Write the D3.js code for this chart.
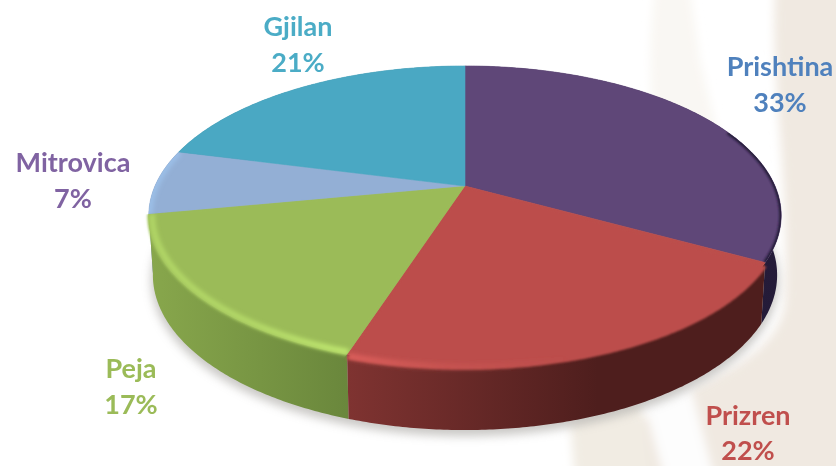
<!DOCTYPE html>
<html><head><meta charset="utf-8">
<script src="https://cdn.jsdelivr.net/npm/d3@7/dist/d3.min.js"></script>
<style>html,body{margin:0;padding:0;background:#fff;overflow:hidden}svg{display:block}</style>
</head><body><script>
const categories = ["Prishtina","Prizren","Peja","Mitrovica","Gjilan"];
const shares = [33,22,17,7,21];

const topColors = ["#5f4778","#bc4e4b","#9bbb59","#93afd5","#4aa8c3"];
const labelColors = ["#4f81bd","#c0504d","#9bbb59","#8064a2","#4bacc6"];
const sideColors = [["#2a2142","#241b38"],["#7f3331","#4e1e1d"],["#88a74c","#6a873c"],["#6f86a6","#6f86a6"],["#37808f","#37808f"]];
const rimColors = ["#3a2c4e","#e2625e","#c0e870","#a0c8f2","#4aa8c3"];
const labelAnchors = [[780,76],[748,425],[131,378],[73,172],[298,36]];
const labelGaps = [36,35,36,36,36];

const W=836,H=466;
const svg=d3.select("body").append("svg").attr("width",W).attr("height",H);
const defs=svg.append("defs");
[["b0",0.35],["b1",1.2],["b2",2.2],["b3",5]].forEach(([id,s])=>{
  defs.append("filter").attr("id",id).attr("x","-20%").attr("y","-20%").attr("width","140%").attr("height","140%")
   .append("feGaussianBlur").attr("stdDeviation",s);
});

// background swoosh
const bg=svg.append("g").attr("filter","url(#b3)");
bg.append("path").attr("d","M775,-10C770,80 790,180 785,300C780,360 700,380 640,420L575,480L900,480L900,-10Z").attr("fill","#f0e9e1");
bg.append("path").attr("d","M655,-10C648,50 650,90 655,130L730,185L700,60L690,-10Z").attr("fill","#f9f7f3");
bg.append("path").attr("d","M642,395L690,385L715,480L665,480Z").attr("fill","#fdfdfd");
bg.append("path").attr("d","M570,420L640,400L650,480L575,480Z").attr("fill","#f1ece3");

// perspective disc projection
const K=0.197;
const planes={
  top:{cx:465,cy:186,a:310,b:143.7},
  lip:{cx:465,cy:190,a:310,b:143.7},
  bot:{cx:465,cy:244.5,a:306,b:149}
};
function project(theta,plane,r=1){
  const s=r*Math.sin(theta),u=-r*Math.cos(theta),w=1-K*u;
  return [plane.cx+plane.a*s/w, plane.cy+plane.b*u/w];
}
const line=d3.line();
function samples(a0,a1){
  const n=Math.max(2,Math.ceil((a1-a0)/0.01));
  return d3.range(n+1).map(i=>a0+(a1-a0)*i/n);
}
const arcs=d3.pie().sort(null).startAngle(0).endAngle(2*Math.PI)(shares);

// ground shadow
const all=samples(0,2*Math.PI);
svg.append("path").attr("d",line(all.map(t=>{const p=project(t,planes.bot,1.005);return [p[0],p[1]+5];}))+"Z")
  .attr("fill","#b8b6b2").attr("opacity",.75).attr("filter","url(#b3)");

// side walls (back to front)
[3,4,0,2,1].forEach(i=>{
  const d=arcs[i],ts=samples(d.startAngle,d.endAngle);
  const ptsTop=ts.map(t=>project(t,planes.top)),ptsBot=ts.map(t=>project(t,planes.bot));
  const xs=ptsTop.map(p=>p[0]);
  const g=defs.append("linearGradient").attr("id","side"+i).attr("gradientUnits","userSpaceOnUse")
    .attr("x1",d3.min(xs)).attr("x2",d3.max(xs)).attr("y1",0).attr("y2",0);
  g.append("stop").attr("offset",0).attr("stop-color",sideColors[i][0]);
  g.append("stop").attr("offset",i===1?.6:1).attr("stop-color",sideColors[i][1]);
  svg.append("path").attr("d",line(ptsTop.concat(ptsBot.reverse()))+"Z").attr("fill",`url(#side${i})`);
});

// top faces
const apex=[planes.top.cx,planes.top.cy];
const slicePath=(d,plane=planes.top,r=1)=>line([apex].concat(samples(d.startAngle,d.endAngle).map(t=>project(t,plane,r))))+"Z";
arcs.forEach((d,i)=>{
  defs.append("clipPath").attr("id","clip"+i).append("path").attr("d",slicePath(d,planes.top,i===1||i===2?1.06:1));
});
const tops=svg.append("g");
arcs.forEach((d,i)=>{
  tops.append("path").attr("d",slicePath(d)).attr("fill",topColors[i]).attr("stroke",topColors[i]).attr("stroke-width",.6);
});
arcs.forEach((d,i)=>{
  const g=tops.append("g").attr("clip-path",`url(#clip${i})`);
  const ts=samples(d.startAngle,d.endAngle);
  // soft roll-over of the face into the wall
  if(i===1||i===2){
    g.append("path").attr("d",slicePath(d,i===1?planes.lip:planes.top,1.004)).attr("fill",topColors[i]).attr("filter","url(#b1)");
  }
  if(i===0){
    const front=ts.filter(t=>t>1.15);
    g.append("path").attr("d",line(front.map(t=>project(t,planes.top))))
      .attr("fill","none").attr("stroke",sideColors[0][1]).attr("stroke-width",4).attr("filter","url(#b1)");
  }
  if(i===1||i===2||i===3){
    const rg=defs.append("linearGradient").attr("id","rim"+i).attr("gradientUnits","userSpaceOnUse").attr("y1",0).attr("y2",0);
    if(i===1){
      rg.attr("x1",340).attr("x2",570);
      rg.append("stop").attr("offset",0).attr("stop-color",rimColors[i]).attr("stop-opacity",.9);
      rg.append("stop").attr("offset",.45).attr("stop-color",rimColors[i]).attr("stop-opacity",.3);
      rg.append("stop").attr("offset",1).attr("stop-color",rimColors[i]).attr("stop-opacity",0);
    } else {
      rg.attr("x1",140).attr("x2",350);
      rg.append("stop").attr("offset",0).attr("stop-color",rimColors[i]).attr("stop-opacity",.6);
      rg.append("stop").attr("offset",.5).attr("stop-color",rimColors[i]).attr("stop-opacity",.65);
      rg.append("stop").attr("offset",1).attr("stop-color",rimColors[i]).attr("stop-opacity",1);
    }
    g.append("path").attr("d",line(ts.map(t=>project(t,i===1?planes.lip:planes.top,i===3?1:0.99))))
      .attr("fill","none").attr("stroke",`url(#rim${i})`).attr("stroke-width",i===3?8:6).attr("filter","url(#b2)");
  }
});

// labels
const labels=svg.append("g").attr("font-family","Lato, 'Open Sans', sans-serif").attr("font-weight",700).attr("font-size",27).attr("text-anchor","middle").attr("filter","url(#b0)");
categories.forEach((c,i)=>{
  const [x,y]=labelAnchors[i];
  const t=labels.append("text").attr("fill",labelColors[i]);
  t.append("tspan").attr("x",x).attr("y",y).text(c);
  t.append("tspan").attr("x",x).attr("y",y+labelGaps[i]).text(shares[i]+"%");
});
</script></body></html>
